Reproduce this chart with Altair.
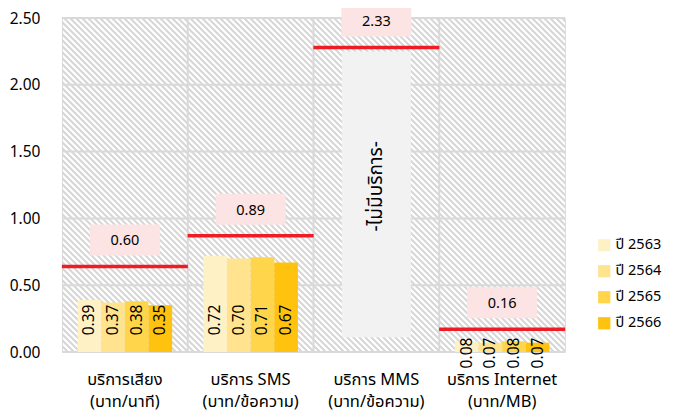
import altair as alt
import pandas as pd
import numpy as np

# ---- data ----
categories = ["บริการเสียง\n(บาท/นาที)", "บริการ SMS\n(บาท/ข้อความ)",
              "บริการ MMS\n(บาท/ข้อความ)", "บริการ Internet\n(บาท/MB)"]
years = ["ปี 2563", "ปี 2564", "ปี 2565", "ปี 2566"]
voice = [0.39, 0.37, 0.38, 0.35]
sms = [0.72, 0.70, 0.71, 0.67]
internet = [0.08, 0.07, 0.08, 0.07]
ceiling_text = ["0.60", "0.89", "2.33", "0.16"]
ceiling_line = [0.64, 0.87, 2.28, 0.17]
no_service_text = "-ไม่มีบริการ-"
no_service_top = 2.25
no_service_bottom = 0.11
colors = ["#FFF1C6", "#FFE38E", "#FFD54C", "#FFC20E"]
y_ticks = [0, 0.5, 1.0, 1.5, 2.0, 2.5]

W, H = 503, 334
PX = 2.5 / H  # data units per pixel
FONT = "Noto Sans, Noto Sans Thai, sans-serif"
TXT = "#000000"

rows = []
for cat, vals in [(categories[0], voice), (categories[1], sms), (categories[3], internet)]:
    for yr, v in zip(years, vals):
        rows.append({"cat": cat, "year": yr, "value": v, "label": f"{v:.2f}",
                     "label_y": 0.24 if v > 0.2 else -1.0 * PX})
bars_df = pd.DataFrame(rows)

ceil_df = pd.DataFrame({
    "cat": categories, "line": ceiling_line, "text": ceiling_text,
})
ceil_df["box_lo"] = ceil_df["line"] + 11 * PX
ceil_df["box_hi"] = ceil_df["line"] + 42 * PX
ceil_df["text_y"] = ceil_df["line"] + 25 * PX

mms_df = pd.DataFrame({"cat": [categories[2]], "top": [no_service_top],
                       "bottom": [no_service_bottom], "text": [no_service_text],
                       "mid": [(no_service_top + no_service_bottom) / 2 + 0.06]})

hx = np.arange(-H, W + 6, 6)
hatch_df = pd.DataFrame({"hx": hx, "hx2": hx + H, "hy": 0, "hy2": H})
grid_df = pd.DataFrame({"v": y_ticks})
edge_df = pd.DataFrame({"cat": categories[1:]})


def xenc(band_pos=None):
    kw = {}
    if band_pos is not None:
        kw["bandPosition"] = band_pos
    return alt.X("cat:N", sort=categories,
                 scale=alt.Scale(domain=categories, paddingInner=0, paddingOuter=0),
                 axis=alt.Axis(title=None, labelExpr="split(datum.label, '\\n')",
                               labelFontSize=16.5, labelPadding=19, labelLineHeight=22,
                               domain=False, ticks=False, labelAngle=0,
                               labelColor=TXT, labelFont=FONT), **kw)


yscale = alt.Scale(domain=[0, 2.5], nice=False)
yaxis = alt.Axis(title=None, values=y_ticks, format=".2f", grid=False, domain=False,
                 ticks=False, labelFontSize=15.5, labelPadding=22, labelColor=TXT,
                 labelFont=FONT)

hatch = alt.Chart(hatch_df).mark_rule(color="#d6d6d6", strokeWidth=2, clip=True).encode(
    x=alt.X("hx:Q", scale=None, axis=None), x2="hx2:Q",
    y=alt.Y("hy:Q", scale=None, axis=None), y2="hy2:Q")

hgrid = alt.Chart(grid_df).mark_rule(color="#d9d9d9", strokeWidth=2).encode(
    y=alt.Y("v:Q", scale=yscale, axis=yaxis))

vgrid = alt.Chart(edge_df).mark_rule(color="#d9d9d9", strokeWidth=2).encode(
    x=xenc(0))

mms_box = alt.Chart(mms_df).mark_bar(width=69, color="#f2f2f2").encode(
    x=xenc(), y=alt.Y("top:Q", scale=yscale, axis=yaxis), y2="bottom:Q")

xoff = alt.XOffset("year:N", sort=years,
                   scale=alt.Scale(paddingOuter=0.66, paddingInner=0))

bars = alt.Chart(bars_df).mark_bar().encode(
    x=xenc(), xOffset=xoff,
    y=alt.Y("value:Q", scale=yscale, axis=yaxis),
    color=alt.Color("year:N", sort=years, scale=alt.Scale(domain=years, range=colors),
                    legend=alt.Legend(title=None, orient="none", legendX=535, legendY=220,
                                      symbolType="square", symbolSize=150,
                                      symbolStrokeWidth=0, symbolOpacity=1,
                                      labelFontSize=14.5,
                                      labelFont=FONT, labelColor=TXT,
                                      rowPadding=11, labelOffset=4, padding=0)))

bar_labels = alt.Chart(bars_df).mark_text(angle=270, fontSize=15.5, font=FONT,
                                          color=TXT).encode(
    x=xenc(), xOffset=xoff,
    y=alt.Y("label_y:Q", scale=yscale, axis=yaxis), text="label:N")

red = alt.Chart(ceil_df).mark_tick(color="#EE1C25", thickness=3.5, size=126,
                                   orient="horizontal", opacity=1).encode(
    x=xenc(), y=alt.Y("line:Q", scale=yscale, axis=yaxis))

boxes = alt.Chart(ceil_df).mark_bar(width=70, color="#FCE4E4").encode(
    x=xenc(), y=alt.Y("box_lo:Q", scale=yscale, axis=yaxis), y2="box_hi:Q")

box_text = alt.Chart(ceil_df).mark_text(fontSize=14.5, font=FONT, color=TXT).encode(
    x=xenc(), y=alt.Y("text_y:Q", scale=yscale, axis=yaxis), text="text:N")

mms_text = alt.Chart(mms_df).mark_text(angle=270, fontSize=19, font=FONT,
                                       color=TXT).encode(
    x=xenc(), y=alt.Y("mid:Q", scale=yscale, axis=yaxis), text="text:N")

chart = alt.layer(hatch, hgrid, vgrid, mms_box, bars, bar_labels, red, boxes,
                  box_text, mms_text).properties(
    width=W, height=H, autosize=alt.AutoSizeParams(type="none"),
    padding={"left": 54, "top": 10, "right": 101, "bottom": 59},
).configure_view(stroke="#d9d9d9", strokeWidth=2).configure(background="white")

chart.save("out.html", embed_options={"renderer": "svg", "actions": False})
